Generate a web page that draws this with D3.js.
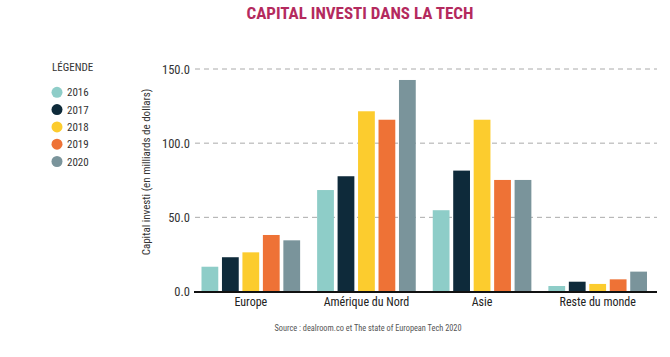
<!DOCTYPE html>
<html><head><meta charset="utf-8">
<script src="https://cdn.jsdelivr.net/npm/d3@7"></script>
<style>
body{margin:0;background:#fff;}
text{font-family:"Liberation Sans Narrow","Roboto Condensed","DejaVu Sans Condensed",sans-serif;}
</style></head>
<body><svg id="c" width="670" height="357"></svg>
<script>
const categories = ["Europe", "Amérique du Nord", "Asie", "Reste du monde"];
const years = ["2016", "2017", "2018", "2019", "2020"];
const v2016 = [16.7, 68.4, 54.8, 3.7];
const v2017 = [23.1, 77.7, 81.5, 6.6];
const v2018 = [26.4, 121.5, 115.8, 5.1];
const v2019 = [38.1, 115.8, 75.2, 8.2];
const v2020 = [34.5, 142.6, 75.2, 13.4];
const yTicks = [0, 50, 100, 150];
const colors = ["#8ecdc8", "#0e2a3a", "#fccc2e", "#ee7236", "#7a949b"];
const seriesValues = [v2016, v2017, v2018, v2019, v2020];

const svg = d3.select("#c");
const y = d3.scaleLinear().domain([0, 150]).range([291.5, 69]);
const x0 = d3.scaleBand().domain(categories).range([201.5, 647]).paddingInner(0.147).paddingOuter(0);
const x1 = d3.scaleBand().domain(years).range([0, x0.bandwidth()]).paddingInner(0.18).paddingOuter(0);
const color = d3.scaleOrdinal().domain(years).range(colors);

// title
svg.append("text").attr("x", 360).attr("y", 19).attr("text-anchor", "middle")
  .attr("font-size", 17).attr("font-weight", "bold").attr("fill", "#b42a5e")
  .text("CAPITAL INVESTI DANS LA TECH");

// grid
const yAxis = d3.axisLeft(y).tickValues(yTicks).tickFormat(d3.format(".1f")).tickSize(0).tickPadding(3);
const gY = svg.append("g").attr("transform", "translate(193,0)").call(yAxis);
gY.select(".domain").remove();
gY.selectAll("text").attr("font-size", 12.5).attr("fill", "#333");
svg.append("g").selectAll("line").data(yTicks.filter(d => d > 0)).join("line")
  .attr("x1", 195).attr("x2", 657).attr("y1", d => y(d)).attr("y2", d => y(d))
  .attr("stroke", "#aaa").attr("stroke-width", 1).attr("stroke-dasharray", "5,4");

// bars
const groups = svg.append("g").selectAll("g").data(categories).join("g")
  .attr("transform", d => `translate(${x0(d)},0)`);
groups.selectAll("rect").data((d, i) => years.map((yr, j) => ({yr, v: seriesValues[j][i]}))).join("rect")
  .attr("x", d => x1(d.yr)).attr("width", x1.bandwidth())
  .attr("y", d => y(d.v)).attr("height", d => y(0) - y(d.v))
  .attr("fill", d => color(d.yr));

// baseline
svg.append("line").attr("x1", 194).attr("x2", 657).attr("y1", y(0) + 0.5).attr("y2", y(0) + 0.5)
  .attr("stroke", "#111").attr("stroke-width", 2);

// x axis labels
const xAxis = d3.axisBottom(x0).tickSize(0).tickPadding(5);
const gX = svg.append("g").attr("transform", `translate(0,${y(0) + 1})`).call(xAxis);
gX.select(".domain").remove();
gX.selectAll("text").attr("font-size", 12).attr("fill", "#222");

// y title
svg.append("text").attr("transform", "translate(150,172) rotate(-90)").attr("text-anchor", "middle")
  .attr("font-size", 11).attr("fill", "#333").text("Capital investi (en milliards de dollars)");

// legend
svg.append("text").attr("x", 52).attr("y", 71).attr("font-size", 11).attr("fill", "#333").text("LÉGENDE");
const leg = svg.append("g").selectAll("g").data(years).join("g")
  .attr("transform", (d, i) => `translate(57,${92.3 + i * 17.3})`);
leg.append("circle").attr("r", 5.5).attr("fill", d => color(d));
leg.append("text").attr("x", 10).attr("y", 4).attr("font-size", 11).attr("fill", "#333").text(d => d);

// source
svg.append("text").attr("x", 368).attr("y", 331).attr("text-anchor", "middle")
  .attr("font-size", 8.3).attr("fill", "#555").text("Source : dealroom.co et The state of European Tech 2020");
</script></body></html>
